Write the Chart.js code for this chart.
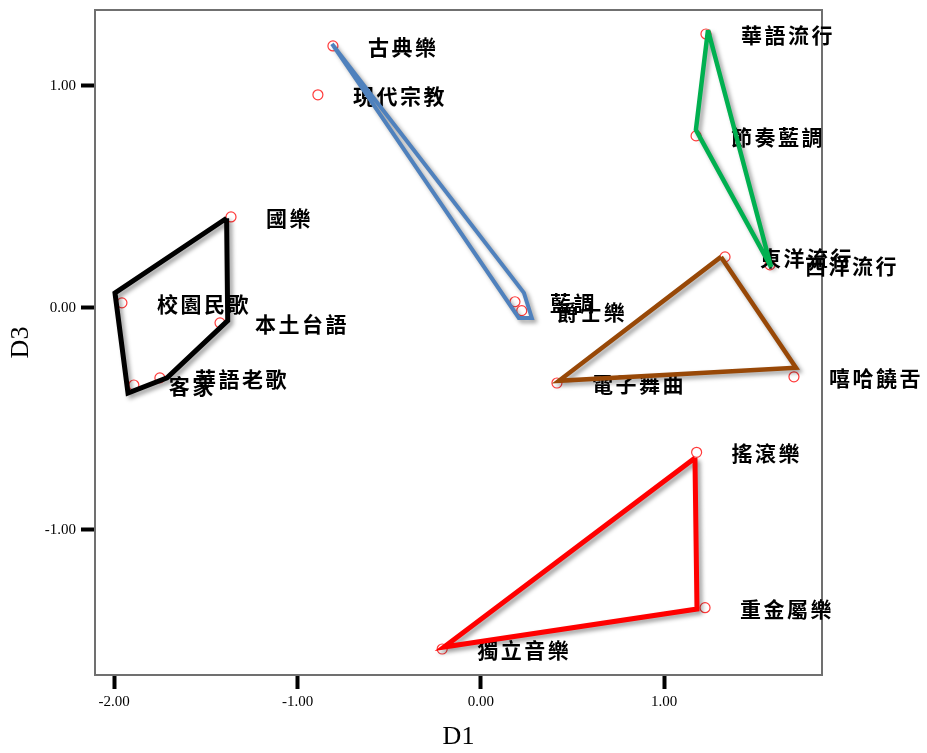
<!DOCTYPE html>
<html>
<head>
<meta charset="utf-8">
<title>D1 × D3</title>
<script src="https://cdn.jsdelivr.net/npm/chart.js@4.4.1/dist/chart.umd.min.js"></script>
<style>
  html, body { margin: 0; padding: 0; background: #ffffff; }
  #wrap { width: 927px; height: 753px; position: relative; }
</style>
</head>
<body>
<div id="wrap"><canvas id="c"></canvas></div>
<script>
// Genre coordinates on dimensions D1 (horizontal) and D3 (vertical)
const genres = ['古典樂','現代宗教','國樂','校園民歌','本土台語','華語老歌','客家','藍調','爵士樂',
                '華語流行','節奏藍調','東洋流行','西洋流行','電子舞曲','嘻哈饒舌','搖滾樂','重金屬樂','獨立音樂'];
const d1 = [-0.807, -0.889, -1.363, -1.958, -1.423, -1.751, -1.893, 0.186, 0.223,
             1.228,  1.174,  1.332,  1.577,  0.415,  1.708,  1.177, 1.223, -0.211];
const d3 = [ 1.179,  0.959,  0.409,  0.022, -0.068, -0.316, -0.348, 0.027, -0.013,
             1.233,  0.774,  0.229,  0.193, -0.339, -0.311, -0.651, -1.351, -1.537];

// Cluster outlines (closed polygons, D1 / D3 vertices)
const blackD1 = [-1.387, -1.996, -1.925, -1.712, -1.381, -1.387];
const blackD3 = [ 0.403,  0.067, -0.384, -0.316, -0.058,  0.403];
const blueD1  = [-0.812,  0.235,  0.278,  0.207, -0.812];
const blueD3  = [ 1.188,  0.067, -0.046, -0.046,  1.188];
const greenD1 = [ 1.239,  1.173,  1.583,  1.239];
const greenD3 = [ 1.251,  0.801,  0.184,  1.251];
const brownD1 = [ 1.310,  1.719,  0.426,  1.310];
const brownD3 = [ 0.229, -0.270, -0.329,  0.229];
const redD1   = [ 1.168,  1.179, -0.201,  1.168];
const redD3   = [-0.677, -1.357, -1.528, -0.677];

// Axis ticks
const xTickValues = [-2, -1, 0, 1];
const yTickValues = [-1, 0, 1];

const toPoints = (xs, ys) => xs.map((x, i) => ({ x: x, y: ys[i] }));

function outline(xs, ys, color, width, join) {
  return {
    label: 'outline',
    data: toPoints(xs, ys),
    showLine: true,
    borderColor: color,
    borderWidth: width,
    borderJoinStyle: join || 'miter',
    pointRadius: 0,
    pointHoverRadius: 0,
    tension: 0,
    fill: false,
    order: 1
  };
}

const pointsDataset = {
  label: 'genres',
  data: toPoints(d1, d3),
  pointStyle: 'circle',
  pointRadius: 5,
  pointHoverRadius: 5,
  pointBorderWidth: 1.2,
  pointBorderColor: '#ff3b3b',
  pointBackgroundColor: 'rgba(255,255,255,0)',
  showLine: false,
  order: 2
};

// Plot frame drawn under the marks
const framePlugin = {
  id: 'frame',
  beforeDatasetsDraw(chart) {
    const { ctx, chartArea: a } = chart;
    ctx.save();
    ctx.strokeStyle = '#707070';
    ctx.lineWidth = 2;
    ctx.strokeRect(a.left, a.top, a.right - a.left, a.bottom - a.top);
    ctx.restore();
  }
};

// Soft drop shadow under the cluster outlines, genre names after the markers
const marksPlugin = {
  id: 'marks',
  beforeDatasetDraw(chart, args) {
    if (args.meta._dataset.label !== 'outline') return;
    const ctx = chart.ctx;
    ctx.save();
    ctx.shadowColor = 'rgba(0,0,0,0.38)';
    ctx.shadowBlur = 4;
    ctx.shadowOffsetX = 3;
    ctx.shadowOffsetY = 3;
  },
  afterDatasetDraw(chart, args) {
    const ctx = chart.ctx;
    if (args.meta._dataset.label === 'outline') { ctx.restore(); return; }
    const xs = chart.scales.x, ys = chart.scales.y;
    ctx.save();
    ctx.font = 'bold 21px "Noto Sans CJK TC", "Noto Sans CJK SC", sans-serif';
    ctx.fillStyle = '#000000';
    ctx.textBaseline = 'middle';
    ctx.textAlign = 'left';
    genres.forEach((name, i) => {
      let px = xs.getPixelForValue(d1[i]) + 35;
      const py = ys.getPixelForValue(d3[i]) + 1;
      for (const ch of name) {
        ctx.fillText(ch, px, py);
        px += ctx.measureText(ch).width + 2.5;
      }
    });
    ctx.restore();
  }
};

const tickFont = { family: '"Liberation Serif", "DejaVu Serif", serif', size: 15 };
const titleFont = { family: '"Liberation Serif", "DejaVu Serif", serif', size: 26 };

const noEdgePadding = (s) => {
  s.paddingTop = 0; s.paddingBottom = 0; s.paddingLeft = 0; s.paddingRight = 0;
};

new Chart(document.getElementById('c'), {
  type: 'scatter',
  data: {
    datasets: [
      outline(blackD1, blackD3, '#000000', 5),
      outline(blueD1, blueD3, '#4f81bd', 4),
      outline(greenD1, greenD3, '#00b050', 4.5, 'bevel'),
      outline(brownD1, brownD3, '#984807', 4.5),
      outline(redD1, redD3, '#ff0000', 5),
      pointsDataset
    ]
  },
  options: {
    responsive: true,
    maintainAspectRatio: false,
    animation: false,
    events: [],
    layout: { padding: { left: 0, right: 105, top: 10, bottom: 0 } },
    plugins: { legend: { display: false }, tooltip: { enabled: false } },
    scales: {
      x: {
        type: 'linear',
        min: -2.105,
        max: 1.861,
        afterBuildTicks: (s) => { s.ticks = xTickValues.map(v => ({ value: v })); },
        afterFit: (s) => { s.height = 78; noEdgePadding(s); },
        grid: {
          display: true,
          drawOnChartArea: false,
          drawTicks: true,
          tickLength: 14,
          tickWidth: 4,
          tickColor: '#000000'
        },
        border: { display: false },
        ticks: {
          color: '#000000',
          font: tickFont,
          padding: 4,
          maxRotation: 0,
          callback: (v) => Number(v).toFixed(2)
        },
        title: {
          display: true,
          text: 'D1',
          color: '#000000',
          font: titleFont,
          padding: { top: 0, bottom: 0 }
        }
      },
      y: {
        type: 'linear',
        min: -1.654,
        max: 1.341,
        afterBuildTicks: (s) => { s.ticks = yTickValues.map(v => ({ value: v })); },
        afterFit: (s) => { s.width = 95; noEdgePadding(s); },
        grid: {
          display: true,
          drawOnChartArea: false,
          drawTicks: true,
          tickLength: 14,
          tickWidth: 4,
          tickColor: '#000000'
        },
        border: { display: false },
        ticks: {
          color: '#000000',
          font: tickFont,
          padding: 5,
          callback: (v) => Number(v).toFixed(2)
        },
        title: {
          display: true,
          text: 'D3',
          color: '#000000',
          font: titleFont,
          padding: { top: 6, bottom: 0 }
        }
      }
    }
  },
  plugins: [framePlugin, marksPlugin]
});
</script>
</body>
</html>
